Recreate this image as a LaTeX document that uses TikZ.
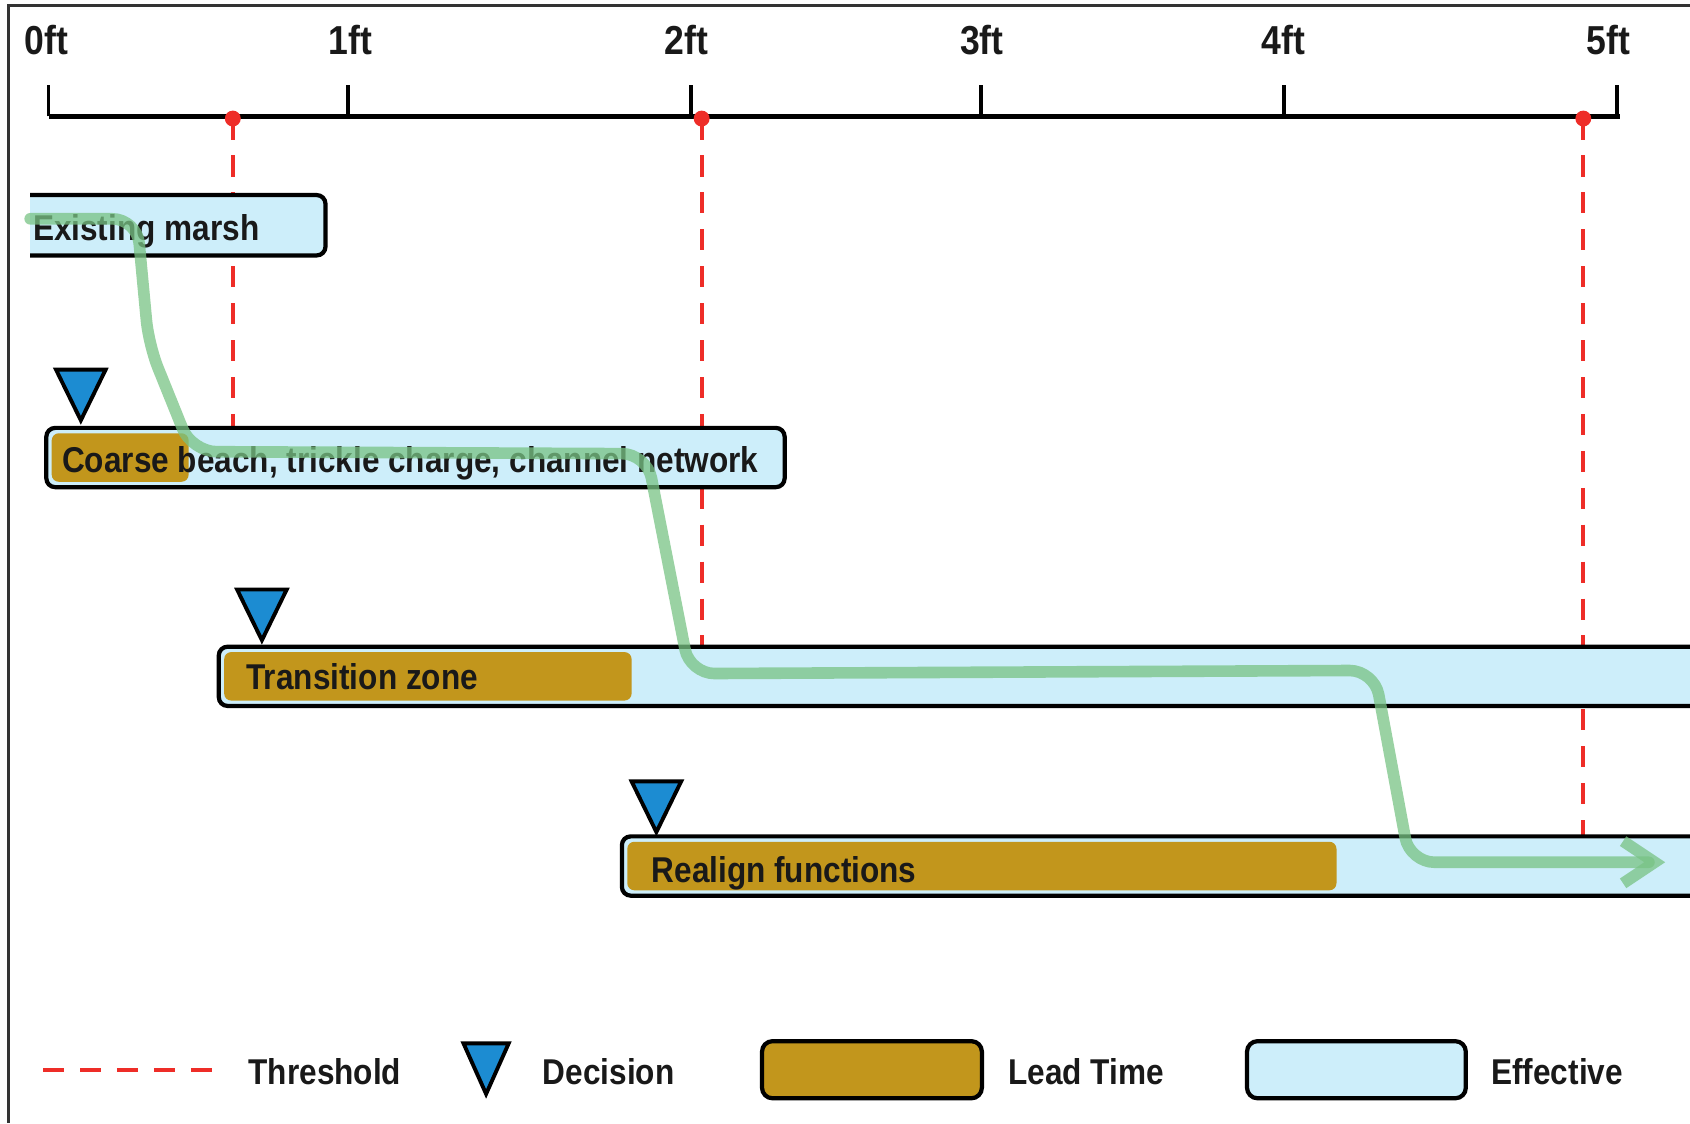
\documentclass[tikz,border=0pt]{standalone}
\usepackage{fontspec}
\setmainfont{Liberation Sans}[FakeStretch=0.88]
\usetikzlibrary{arrows.meta}
\definecolor{hatter}{RGB}{205,238,250}
\definecolor{arany}{RGB}{194,150,28}
\definecolor{kek}{RGB}{28,140,210}
\definecolor{piros}{RGB}{238,45,40}
\definecolor{zold}{RGB}{120,195,132}
\tikzset{
  sav/.style={draw=black,line width=1.2pt,fill=hatter,rounded corners=2.5pt},
  elo/.style={fill=arany,rounded corners=2pt},
  dontes/.style={draw=black,line width=1.1pt,fill=kek,line join=miter},
  kuszob/.style={draw=piros,line width=1.1pt,dash pattern=on 6pt off 4.5pt},
  pont/.style={circle,fill=piros,inner sep=1.6pt},
  felirat/.style={font=\bfseries\fontsize{10.2}{12}\selectfont,inner sep=0pt,anchor=base west,text=black!90},
  ut/.style={draw=zold,line width=3.3pt,opacity=.75,rounded corners=7pt,line cap=round,line join=round},
}

\begin{document}
\begin{tikzpicture}[x=0.010778cm,y=-0.010778cm]
  \useasboundingbox (0,0) rectangle (1568,1042);
  % keret
  \draw[line width=1pt,black!80] (1568,5) -- (8,5) -- (8,1042);
  % tengely
  \draw[line width=1.3pt] (45,108) -- (1503,108);
  \foreach \x/\lx/\t [count=\i from 0] in {45/43/0,323/325/1,641/637/2,910/911/3,1191/1191/4,1500/1492/5} {
    \draw[line width=1.1pt] (\x,108) -- (\x,79);
    \node[felirat,anchor=base,font=\bfseries\fontsize{11.5}{13}\selectfont] (l\i) at (\lx,51) {\t ft};
  }
  % kuszobok
  \foreach \x/\y [count=\i] in {216/397,651/600,1469/776} {
    \draw[kuszob] (\x,110) -- (\x,\y);
    \node[pont] (p\i) at (\x,110) {};
  }
  % savok
  \path[sav] (28,181) -- (302,181) -- (302,237) -- (28,237);
  \path[sav] (43,397) rectangle (728,452);
  \path[elo] (48,402) rectangle (175,447);
  \path[sav] (1572,600) -- (203,600) -- (203,655) -- (1572,655);
  \path[elo] (208,605) rectangle (586,650);
  \path[sav] (1572,776) -- (577,776) -- (577,831) -- (1572,831);
  \path[elo] (582,781) rectangle (1240,826);
  \foreach \x/\y in {75/343,243/547,609/725}
    \draw[dontes] (\x-23,\y) -- (\x+23,\y) -- (\x,\y+47) -- cycle;
  \node[felirat] (marsh) at (30,223) {Existing marsh};
  \node[felirat] (coarse) at (57,438) {Coarse beach, trickle charge, channel network};
  \node[felirat] (trans) at (228,640) {Transition zone};
  \node[felirat] (realign) at (604,819) {Realign functions};
  % ut
  \draw[ut,-{Straight Barb[length=9pt,width=12pt]}] (28,203) -- (127,203) -- (138,320)
    -- (178,419) -- (600,421) -- (640,625) -- (1275,622) -- (1308,800) -- (1545,800);
  % jelmagyarazat
  \draw[kuszob] (40,993) -- (205,993);
  \node[felirat] (lthr) at (230,1006) {Threshold};
  \draw[dontes] (430,968) -- (472,968) -- (451,1015) -- cycle;
  \node[felirat] (ldec) at (503,1006) {Decision};
  \draw[sav,fill=arany,rounded corners=3pt] (707,966) rectangle (911,1019);
  \node[felirat] (llead) at (935,1006) {Lead Time};
  \draw[sav,rounded corners=3pt] (1157,966) rectangle (1360,1019);
  \node[felirat] (leff) at (1383,1006) {Effective};
\end{tikzpicture}
\end{document}
